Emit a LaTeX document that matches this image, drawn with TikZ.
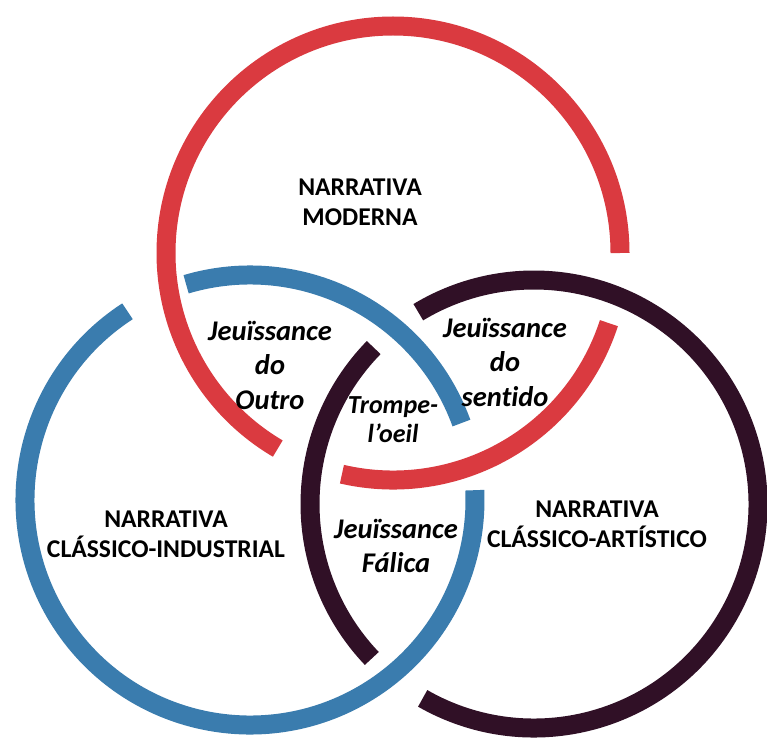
\documentclass[tikz,border=0pt]{standalone}
\usepackage{fontspec}
\setmainfont{Carlito}[Ligatures=NoCommon]
\definecolor{ringred}{RGB}{218,58,64}
\definecolor{ringblue}{RGB}{58,124,174}
\definecolor{ringdark}{RGB}{48,16,38}
\begin{document}
\begin{tikzpicture}[x=1pt,y=1pt,
  ring/.style={line width=19pt, line cap=butt},
  big/.style={font=\fontsize{25.6}{30}\selectfont\bfseries, align=center, inner sep=0pt},
  ital/.style={font=\fontsize{28.5}{34.5}\selectfont\bfseries\itshape, align=center, inner sep=0pt},
  smallital/.style={font=\fontsize{26}{29}\selectfont\bfseries\itshape, align=center, inner sep=0pt}]
\useasboundingbox[fill=white] (0,0) rectangle (767,740);
\coordinate (R) at (393,487);
\coordinate (B) at (250,240);
\coordinate (D) at (534,236);
% red ring
\draw[ring, ringred] ([shift={(0:227pt)}]R) arc[start angle=0, end angle=239.5, radius=227pt];
\draw[ring, ringred] ([shift={(-103:227pt)}]R) arc[start angle=-103, end angle=-18, radius=227pt];
% blue ring
\draw[ring, ringblue] ([shift={(123:225pt)}]B) arc[start angle=123, end angle=362.5, radius=225pt];
\draw[ring, ringblue] ([shift={(20:225pt)}]B) arc[start angle=20, end angle=106.5, radius=225pt];
% dark ring
\draw[ring, ringdark] ([shift={(-119.8:224pt)}]D) arc[start angle=-119.8, end angle=121.1, radius=224pt];
\draw[ring, ringdark] ([shift={(135.7:224pt)}]D) arc[start angle=135.7, end angle=223.6, radius=224pt];
% labels
\node[big] (nm) at (360,538) {NARRATIVA\\MODERNA};
\node[big] (nci) at (166,206) {NARRATIVA\\CLÁSSICO-INDUSTRIAL};
\node[big] (nca) at (597,216) {NARRATIVA\\CLÁSSICO-ARTÍSTICO};
\node[ital] (jo) at (270,375) {Jeuïssance\\do\\Outro};
\node[ital] (js) at (505,378) {Jeuïssance\\do\\sentido};
\node[smallital] (tp) at (393,320) {Trompe-\\l’oeil};
\node[ital] (jf) at (396,194) {Jeuïssance\\Fálica};
\end{tikzpicture}
\end{document}
